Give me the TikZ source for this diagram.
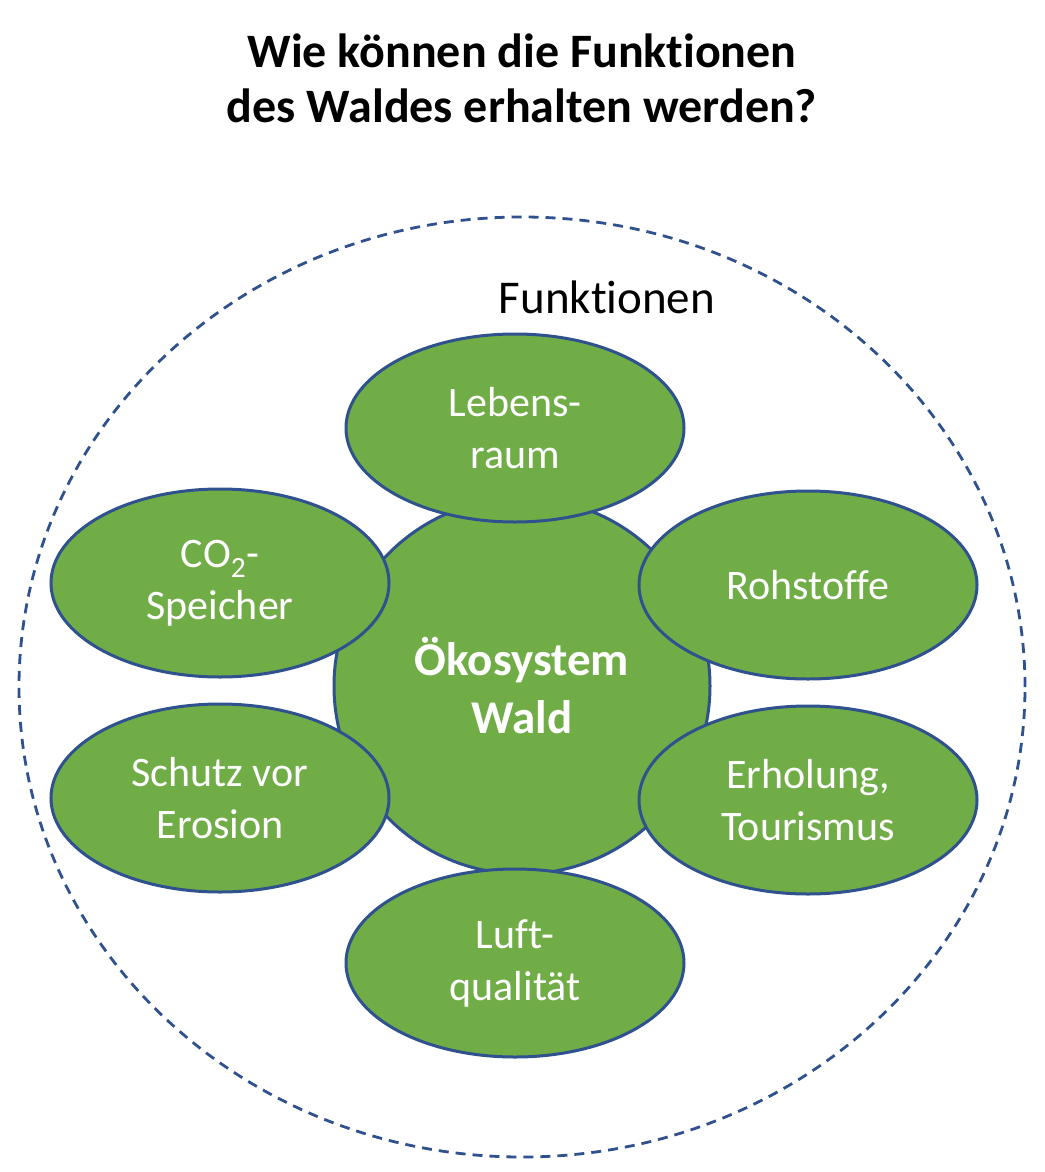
\documentclass[tikz,border=0pt]{standalone}
\usepackage{fontspec}
\setmainfont{Carlito}[Ligatures=NoCommon]
\usetikzlibrary{shapes.geometric}
\definecolor{gruen}{HTML}{70AD47}
\definecolor{rand}{HTML}{2F528F}

\begin{document}
\begin{tikzpicture}[x=1pt,y=-1pt,
  funktion/.style={ellipse, draw=rand, line width=3pt, fill=gruen, text=white, align=center,
    minimum width=338pt, minimum height=188pt, font=\fontsize{42}{52}\selectfont}]
\useasboundingbox (0,0) rectangle (1044,1172);
\node (titel) [align=center, font=\bfseries\fontsize{48}{55}\selectfont] at (522,78) {Wie können die Funktionen\\des Waldes erhalten werden?};
\node (rahmen) [ellipse, draw=rand, line width=2.8pt, dash pattern=on 10pt off 7pt, minimum width=1006pt, minimum height=940pt] at (522,687) {};
\node (funktionen) [font=\fontsize{47}{56}\selectfont] at (607,297) {Funktionen};
% Mitte zuerst, die Ellipsen liegen darueber
\node (wald) [circle, draw=rand, line width=3pt, fill=gruen, text=white, align=center, minimum size=376pt,
  font=\bfseries\fontsize{47}{58}\selectfont] at (522,686) {Ökosystem\\Wald};
\node (lebensraum) [funktion] at (515,428) {Lebens-\\raum};
\node (co2) [funktion] at (220,583) {CO\textsubscript{2}-\\Speicher};
\node (rohstoffe) [funktion] at (808,585) {Rohstoffe};
\node (erosion) [funktion] at (220,798) {Schutz vor\\Erosion};
\node (erholung) [funktion] at (808,800) {Erholung,\\Tourismus};
\node (luft) [funktion] at (515,963) {Luft-\\qualität};
\end{tikzpicture}
\end{document}
